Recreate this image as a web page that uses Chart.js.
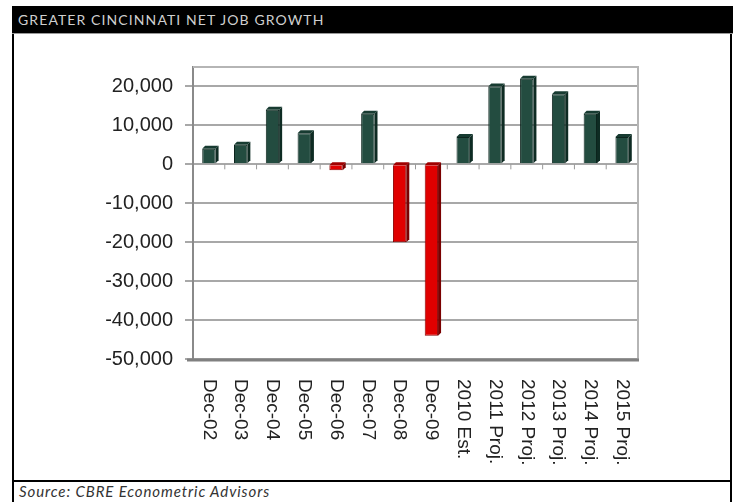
<!DOCTYPE html>
<html>
<head>
<meta charset="utf-8">
<script src="https://cdn.jsdelivr.net/npm/chart.js@4"></script>
<style>
  html, body { margin: 0; padding: 0; background: #fff; }
  body { width: 733px; height: 502px; position: relative; overflow: hidden; }
  .title-bar {
    position: absolute; left: 12px; top: 6px; width: 721px; height: 27px;
    background: #000; border-bottom: 1px solid #999;
  }
  .title-bar span {
    position: absolute; left: 6px; top: 5px;
    font-family: Lato, "Open Sans", sans-serif; font-size: 14px; letter-spacing: 1.1px;
    color: #cfcfcf;
  }
  .frame {
    position: absolute; left: 12px; top: 34px; width: 716px; height: 468px;
    border-left: 2px solid #000; border-right: 2px solid #000;
  }
  .rule { position: absolute; left: 12px; top: 480px; width: 720px; height: 2px; background: #000; }
  .source {
    position: absolute; left: 19px; top: 482px;
    font-family: Lato, "Open Sans", sans-serif; font-style: italic; font-size: 15px;
    letter-spacing: 0.9px; color: #333;
  }
  .chart-box { position: absolute; left: 15px; top: 35px; width: 713px; height: 444px; }
</style>
</head>
<body>
<div class="title-bar"><span>GREATER CINCINNATI NET JOB GROWTH</span></div>
<div class="frame"></div>
<div class="chart-box"><canvas id="jobs" width="713" height="444"></canvas></div>
<div class="rule"></div>
<div class="source">Source: CBRE Econometric Advisors</div>

<script>
const categories = ['Dec-02', 'Dec-03', 'Dec-04', 'Dec-05', 'Dec-06', 'Dec-07', 'Dec-08', 'Dec-09',
  '2010 Est.', '2011 Proj.', '2012 Proj.', '2013 Proj.', '2014 Proj.', '2015 Proj.'];
const netJobs = [4000, 5000, 14000, 8000, -1500, 13000, -20000, -44000, 7000, 20000, 22000, 18000, 13000, 7000];
const yTicks = [-50000, -40000, -30000, -20000, -10000, 0, 10000, 20000];
const yMin = -50000;
const yMax = 25000;

const fmt = (v) => v.toLocaleString('en-US');

// plot frame, category tick marks, rotated labels, bar depth
const excelLook = {
  id: 'excelLook',
  beforeDatasetsDraw(chart) {
    const { ctx, chartArea: a } = chart;
    ctx.save();
    ctx.strokeStyle = '#b5b5b5';
    ctx.lineWidth = 2;
    ctx.beginPath();
    ctx.moveTo(a.left, a.top);
    ctx.lineTo(a.right, a.top);
    ctx.lineTo(a.right, a.bottom);
    ctx.stroke();
    ctx.strokeStyle = '#808080';
    ctx.lineWidth = 3;
    ctx.beginPath();
    ctx.moveTo(a.left - 6, a.bottom + 1);
    ctx.lineTo(a.right + 1, a.bottom + 1);
    ctx.stroke();
    // category boundary ticks on the zero line
    const y0 = chart.scales.y.getPixelForValue(0);
    const xs = chart.scales.x;
    ctx.strokeStyle = '#999';
    ctx.lineWidth = 1;
    for (let i = 1; i < categories.length; i++) {
      const x = (xs.getPixelForValue(i - 1) + xs.getPixelForValue(i)) / 2;
      ctx.beginPath();
      ctx.moveTo(x, y0);
      ctx.lineTo(x, y0 + 5);
      ctx.stroke();
    }
    ctx.restore();
  },
  afterDatasetsDraw(chart) {
    const { ctx } = chart;
    const meta = chart.getDatasetMeta(0);
    ctx.save();
    meta.data.forEach((bar, i) => {
      const { x, y, base, width } = bar.getProps(['x', 'y', 'base', 'width'], true);
      const l = x - width / 2, r = x + width / 2;
      const top = Math.min(y, base), bot = Math.max(y, base);
      const d = 3;
      const pos = netJobs[i] >= 0;
      ctx.fillStyle = pos ? '#0e2b23' : '#7a0000';
      ctx.beginPath();
      ctx.moveTo(r, top);
      ctx.lineTo(r + d, top - d);
      ctx.lineTo(r + d, bot - d);
      ctx.lineTo(r, bot);
      ctx.closePath();
      ctx.fill();
      ctx.fillStyle = pos ? '#173b31' : '#a00000';
      ctx.beginPath();
      ctx.moveTo(l, top);
      ctx.lineTo(l + d, top - d);
      ctx.lineTo(r + d, top - d);
      ctx.lineTo(r, top);
      ctx.closePath();
      ctx.fill();
    });
    // x labels, rotated clockwise
    const xs = chart.scales.x;
    const startY = chart.chartArea.bottom + 20;
    ctx.fillStyle = '#222';
    ctx.font = '19px "Liberation Sans", Arial, sans-serif';
    ctx.textAlign = 'left';
    ctx.textBaseline = 'middle';
    categories.forEach((c, i) => {
      ctx.save();
      ctx.translate(xs.getPixelForValue(i), startY);
      ctx.rotate(Math.PI / 2);
      ctx.fillText(c, 0, 0);
      ctx.restore();
    });
    ctx.restore();
  }
};

new Chart(document.getElementById('jobs'), {
  type: 'bar',
  data: {
    labels: categories,
    datasets: [{
      data: netJobs,
      backgroundColor: netJobs.map(v => v >= 0 ? '#234c40' : '#e00000'),
      borderColor: netJobs.map(v => v >= 0 ? '#0c241d' : '#8a0000'),
      borderWidth: 1,
      categoryPercentage: 1,
      barPercentage: 0.42
    }]
  },
  options: {
    responsive: false,
    animation: false,
    layout: { padding: { top: 32, right: 90, bottom: 120, left: 0 } },
    plugins: { legend: { display: false }, tooltip: { enabled: false } },
    scales: {
      x: { display: false },
      y: {
        min: yMin,
        max: yMax,
        afterBuildTicks: (scale) => { scale.ticks = yTicks.map(v => ({ value: v })); },
        afterFit: (scale) => { scale.width = 178; },
        ticks: {
          callback: (v) => fmt(v),
          color: '#222',
          padding: 12,
          font: { family: '"Liberation Sans", Arial, sans-serif', size: 20 }
        },
        grid: { color: '#a8a8a8', lineWidth: 2, tickLength: 8 },
        border: { color: '#8a8a8a', width: 2 }
      }
    }
  },
  plugins: [excelLook]
});
</script>
</body>
</html>
